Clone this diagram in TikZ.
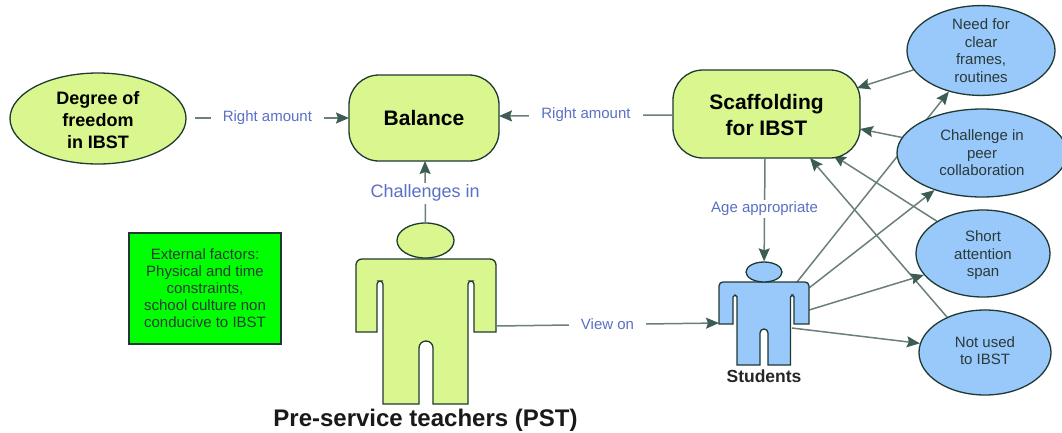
\documentclass[tikz,border=0pt]{standalone}
\usepackage{fontspec}
\setmainfont{Liberation Sans}
\usetikzlibrary{shapes.geometric,arrows.meta,backgrounds}
\definecolor{lime1}{HTML}{D9F78E}
\definecolor{sky1}{HTML}{99C8FB}
\definecolor{edge1}{HTML}{1F3A33}
\definecolor{link1}{HTML}{6B807A}
\definecolor{tip1}{HTML}{3D5C55}
\definecolor{lab1}{HTML}{5A70C4}
\definecolor{ink1}{HTML}{2A3A38}
\newcommand{\fs}[1]{\fontsize{#1}{#1}\selectfont}
\tikzset{
  outl/.style={draw=edge1,line width=1.3pt},
  big/.style={outl,fill=lime1,font=\bfseries\fs{18},align=center,text=black},
  round/.style={big,rectangle,rounded corners=30pt,inner sep=0pt},
  idea/.style={outl,ellipse,fill=sky1,inner sep=0pt,font=\fs{15},align=center,text=ink1},
  link/.style={draw=link1,line width=1.5pt,-{Stealth[length=13pt,width=11pt,inset=2pt,color=tip1]}},
  lab/.style={fill=white,inner xsep=12pt,inner ysep=2pt,text=lab1,font=\fs{15}}
}
\begin{document}
\begin{tikzpicture}[x=1pt,y=-1pt]
\useasboundingbox (0,0) rectangle (1062,432);
\begin{pgfonlayer}{background}
\fill[white] (0,0) rectangle (1062,432);
\end{pgfonlayer}
% main nodes
\node[big,ellipse,inner sep=0pt,minimum width=176pt,minimum height=91pt] (deg) at (98,118.5) {\rule{0pt}{16pt}Degree of\\[4pt]freedom\\[4pt]in IBST};
\node[round,minimum width=150pt,minimum height=86pt,font=\bfseries\fs{21}] (bal) at (424,118) {Balance};
\node[round,minimum width=187pt,minimum height=88pt,font=\bfseries\fs{21}] (sca) at (766.5,114) {\rule{0pt}{18pt}Scaffolding\\[5pt]for IBST};
\node[idea,minimum width=148pt,minimum height=89pt] (need) at (981,50.5) {Need for\\[2.5pt]clear\\[2.5pt]frames,\\[2.5pt]routines};
\node[idea,minimum width=170pt,minimum height=88pt] (chal) at (982,153) {Challenge in\\[2.5pt]peer\\[2.5pt]collaboration};
\node[idea,minimum width=134pt,minimum height=87pt] (short) at (983,253.5) {\rule{0pt}{15pt}Short\\[2.5pt]attention\\[2.5pt]span};
\node[idea,minimum width=132pt,minimum height=85pt] (notu) at (985,352.5) {Not used\\[2.5pt]to IBST\rule[-4pt]{0pt}{4pt}};
\node[rectangle,draw=edge1,line width=1.2pt,fill=green,minimum width=152pt,minimum height=111pt,inner sep=0pt,align=center,text=ink1,font=\fs{15}] (ext) at (205,288.5) {External factors:\\[2pt]Physical and time\\[2pt]constraints,\\[2pt]school culture non\\[2pt]conducive to IBST};
% Pre-service teacher figure
\path[outl,fill=lime1] (356,332) [rounded corners=6pt] -- (356,259) -- (496,259) [sharp corners] -- (496,332) -- (474,332) [rounded corners=3.3pt] -- (474,281) -- (468,281) [sharp corners] -- (468,404) -- (433,404) [rounded corners=6.9pt] -- (433,341) -- (419,341) [sharp corners] -- (419,404) -- (383,404) [rounded corners=3.3pt] -- (383,281) -- (377,281) [sharp corners] -- (377,332) -- cycle;
\node[outl,ellipse,fill=lime1,inner sep=0pt,minimum width=57pt,minimum height=35pt] (pstH) at (425.5,240.5) {};
% Student figure
\path[outl,fill=sky1] (719,324) [rounded corners=4pt] -- (719,282) -- (809,282) [sharp corners] -- (809,324) -- (794,324) [rounded corners=1.9pt] -- (794,295) -- (790.5,295) [sharp corners] -- (790.5,365) -- (768,365) [rounded corners=3.9pt] -- (768,329) -- (760,329) [sharp corners] -- (760,365) -- (737,365) [rounded corners=1.9pt] -- (737,295) -- (733,295) [sharp corners] -- (733,324) -- cycle;
\node[outl,ellipse,fill=sky1,inner sep=0pt,minimum width=36pt,minimum height=20pt] (stuH) at (764,272) {};
% captions
\node[font=\bfseries\fs{24},text=black!90,inner sep=0pt] (pstT) at (425.5,420) {Pre-service teachers (PST)};
\node[font=\bfseries\fs{17.5},text=black!85,inner sep=0pt] (stuT) at (764,376.5) {Students};
% connector end points
\coordinate (balL) at (349,118);
\coordinate (balR) at (499,116);
\coordinate (balB) at (425,161);
\coordinate (scaL) at (673,115);
\coordinate (scaB) at (765,158);
\coordinate (scaR1) at (857,88);
\coordinate (scaR2) at (860,129);
\coordinate (scaB1) at (833,155);
\coordinate (scaB2) at (810,158);
\coordinate (pstR) at (496,326);
\coordinate (stuL) at (719,323);
\coordinate (stuA) at (797,282);
\coordinate (stuB) at (809,288);
\coordinate (stuC) at (809,310);
\coordinate (stuD) at (792,328);
\coordinate (degR) at (195,118);
% connectors
\begin{pgfonlayer}{background}
\draw[link] (need.196) -- (scaR1);
\draw[link] (chal.169) -- (scaR2);
\draw[link] (short.145) -- (scaB1);
\draw[link] (notu.137) -- (scaB2);
\draw[link] (stuA) -- (need.232);
\draw[link] (stuB) -- (chal.218);
\draw[link] (stuC) -- (short.200);
\draw[link] (stuD) -- (notu.172);
\end{pgfonlayer}
\draw[link] (degR) -- node[lab,pos=0.47] {Right amount} (balL);
\draw[link] (scaL) -- node[lab,pos=0.5,yshift=1pt] {Right amount} (balR);
\draw[link] (pstH) -- node[lab,pos=0.49,font=\fs{18},inner xsep=2pt,yshift=-1pt] {Challenges in} (balB);
\draw[link] (scaB) -- node[lab,pos=0.47,inner xsep=2pt,yshift=-2pt] {Age appropriate} (stuH);
\draw[link] (pstR) -- node[lab,pos=0.5] {View on} (stuL);
\end{tikzpicture}
\end{document}
